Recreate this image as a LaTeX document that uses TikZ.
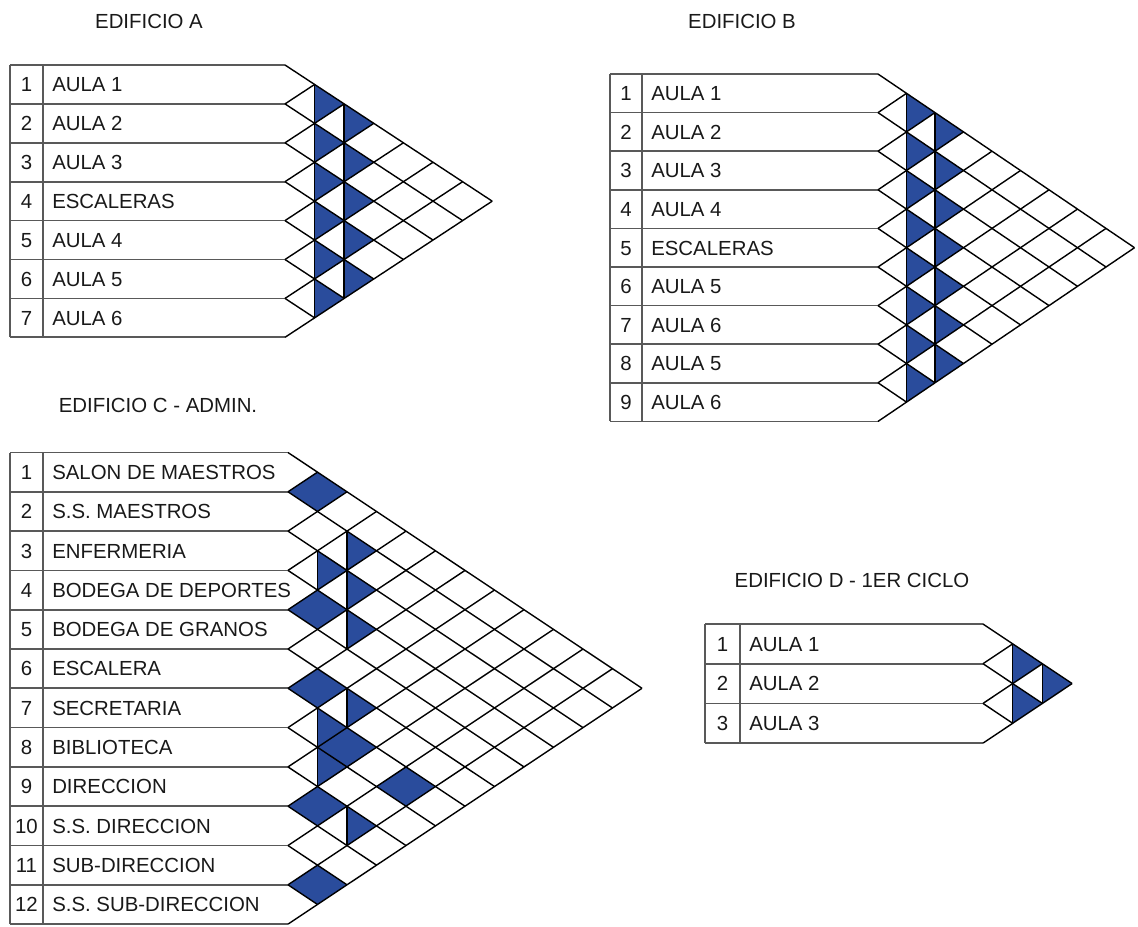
\documentclass[tikz,border=0pt]{standalone}
\usepackage{fontspec}
\setmainfont{Liberation Sans}
\definecolor{mblue}{RGB}{42,76,156}
\newcommand\setM[6]{\def\mL{#1}\def\mD{#2}\def\mX{#3}\def\mT{#4}\def\mH{#5}\def\mW{#6}}
\newcommand\cellc[2]{\pgfmathsetmacro\cx{\mX+(#2-#1)*\mW}\pgfmathsetmacro\cy{\mT+(#1+#2-1)*\mH/2}}
\newcommand\fullcell[2]{\cellc{#1}{#2}\fill[mblue] (\cx-\mW,\cy) -- (\cx,\cy-\mH/2) -- (\cx+\mW,\cy) -- (\cx,\cy+\mH/2) -- cycle;}
\newcommand\halfcell[2]{\cellc{#1}{#2}\fill[mblue] (\cx,\cy-\mH/2) -- (\cx+\mW,\cy) -- (\cx,\cy+\mH/2) -- cycle;}
\newcommand\halfline[2]{\cellc{#1}{#2}\draw[vln] (\cx,\cy-\mH/2) -- (\cx,\cy+\mH/2);}
\newcommand\grid[1]{%
  \pgfmathtruncatemacro\Nm{#1-1}%
  \draw[tbl] (\mL,\mT) -- (\mL,\mT+#1*\mH);
  \draw[tbl] (\mD,\mT) -- (\mD,\mT+#1*\mH);
  \foreach \k in {0,...,#1} {\draw[tbl] (\mL,\mT+\k*\mH) -- (\mX,\mT+\k*\mH);}
  \foreach \k in {0,...,\Nm} {\draw[dg] (\mX,\mT+\k*\mH) -- ++({(#1-\k)*\mW},{(#1-\k)*\mH/2});}
  \foreach \k in {1,...,#1} {\draw[dg] (\mX,\mT+\k*\mH) -- ++({\k*\mW},{-\k*\mH/2});}
}
\newcommand\rowlabels[2]{%
  \foreach \lab [count=\i] in {#2} {
    \node[num] (#1n\i) at ({(\mL+\mD)/2},{\mT+(\i-0.5)*\mH}) {\i};
    \node[lbl] (#1l\i) at (\mD+9,{\mT+(\i-0.5)*\mH}) {\lab};
  }}
\begin{document}
\begin{tikzpicture}[x=0.75pt,y=-0.75pt,
  txt/.style={inner sep=0pt, font=\fontsize{15.3}{16}\selectfont, text height=11pt, text depth=0pt, text=black!90},
  lbl/.style={txt, anchor=west},
  num/.style={txt, anchor=center},
  ttl/.style={txt, anchor=center},
  tbl/.style={draw=black!65, line width=1.3pt},
  dg/.style={draw=black, line width=1.05pt},
  vln/.style={draw=black, line width=1.1pt}]
\useasboundingbox (0,0) rectangle (1138,926);

% ---------- EDIFICIO A ----------
\node[ttl] (tA) at (149,21) {EDIFICIO A};
\setM{10}{43}{285}{65}{38.9}{29.6}
\foreach \i/\j in {1/2,2/3,3/4,4/5,5/6,6/7,1/3,2/4,3/5,4/6,5/7} {\halfcell{\i}{\j}}
\grid{7}
\foreach \i/\j in {1/2,2/3,3/4,4/5,5/6,6/7,1/3,2/4,3/5,4/6,5/7} {\halfline{\i}{\j}}
\rowlabels{A}{AULA 1,AULA 2,AULA 3,ESCALERAS,AULA 4,AULA 5,AULA 6}

% ---------- EDIFICIO B ----------
\node[ttl] (tB) at (742,21) {EDIFICIO B};
\setM{610}{642}{878}{74}{38.6}{28.5}
\foreach \i/\j in {1/2,2/3,3/4,4/5,5/6,6/7,7/8,8/9,1/3,2/4,3/5,4/6,5/7,6/8,7/9} {\halfcell{\i}{\j}}
\grid{9}
\foreach \i/\j in {1/2,2/3,3/4,4/5,5/6,6/7,7/8,8/9,1/3,2/4,3/5,4/6,5/7,6/8,7/9} {\halfline{\i}{\j}}
\rowlabels{B}{AULA 1,AULA 2,AULA 3,AULA 4,ESCALERAS,AULA 5,AULA 6,AULA 5,AULA 6}

% ---------- EDIFICIO C ----------
\node[ttl] (tC) at (158,405) {EDIFICIO C - ADMIN.};
\setM{10}{43}{288}{452.5}{39.3}{29.5}
\foreach \i/\j in {1/2,4/5,6/7,9/10,11/12,7/9,7/11} {\fullcell{\i}{\j}}
\foreach \i/\j in {3/4,7/8,8/9,2/4,3/5,4/6,6/8,9/11} {\halfcell{\i}{\j}}
\grid{12}
\foreach \i/\j in {3/4,7/8,8/9,2/4,3/5,4/6,6/8,9/11} {\halfline{\i}{\j}}
\rowlabels{C}{SALON DE MAESTROS,S.S. MAESTROS,ENFERMERIA,BODEGA DE DEPORTES,BODEGA DE GRANOS,ESCALERA,SECRETARIA,BIBLIOTECA,DIRECCION,S.S. DIRECCION,SUB-DIRECCION,S.S. SUB-DIRECCION}

% ---------- EDIFICIO D ----------
\node[ttl] (tD) at (852,580) {EDIFICIO D - 1ER CICLO};
\setM{705}{740}{983}{624}{39.7}{29.7}
\foreach \i/\j in {1/2,2/3,1/3} {\halfcell{\i}{\j}}
\grid{3}
\foreach \i/\j in {1/2,2/3,1/3} {\halfline{\i}{\j}}
\rowlabels{D}{AULA 1,AULA 2,AULA 3}
\end{tikzpicture}
\end{document}
